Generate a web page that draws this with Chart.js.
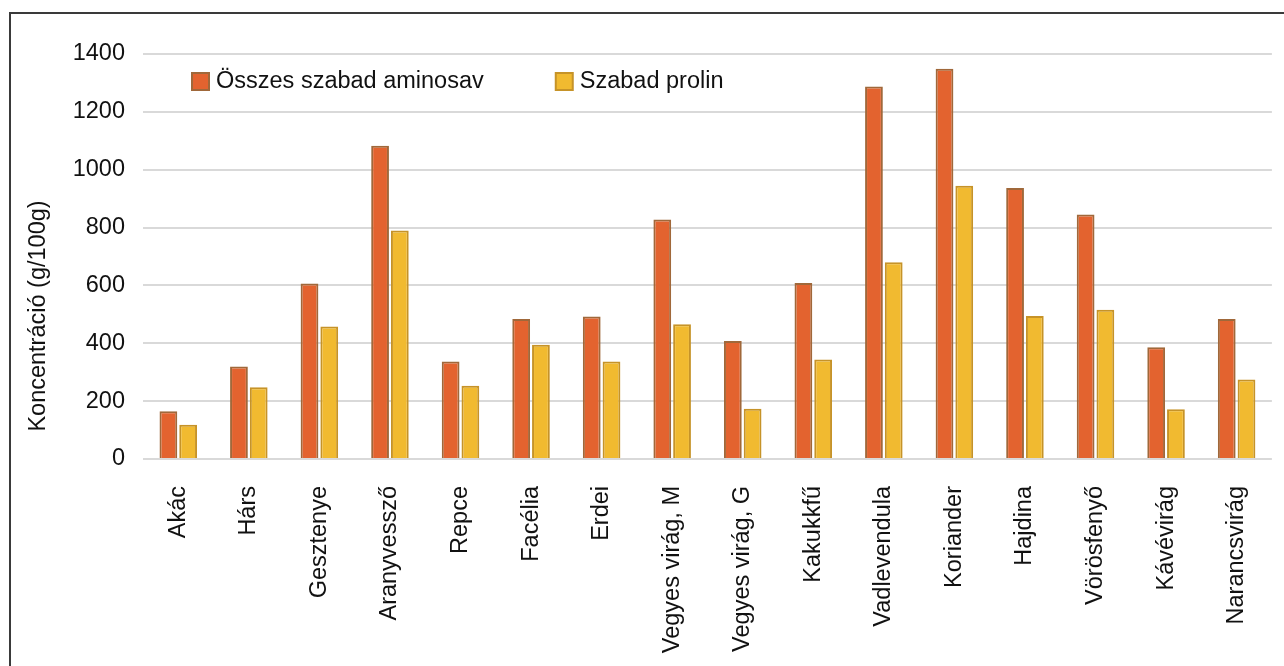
<!DOCTYPE html>
<html>
<head>
<meta charset="utf-8">
<script src="https://cdn.jsdelivr.net/npm/chart.js@4.4.1/dist/chart.umd.min.js"></script>
<style>
  html, body { margin: 0; padding: 0; background: #fff; overflow: hidden; }
  #wrap { position: relative; width: 1284px; height: 666px; overflow: hidden; }
  #frame { position: absolute; left: 9px; top: 12px; width: 1400px; height: 800px; border: 2px solid #3a3a3a; box-sizing: border-box; }
  canvas { position: absolute; left: 0; top: 0; }
</style>
</head>
<body>
<div id="wrap">
  <div id="frame"></div>
  <canvas id="aminoChart" width="1284" height="666"></canvas>
</div>
<script>
const categories = ['Akác', 'Hárs', 'Gesztenye', 'Aranyvessző', 'Repce', 'Facélia', 'Erdei',
  'Vegyes virág, M', 'Vegyes virág, G', 'Kakukkfű', 'Vadlevendula', 'Koriander',
  'Hajdina', 'Vörösfenyő', 'Kávévirág', 'Narancsvirág'];
const osszesAminosav = [165, 320, 607, 1083, 337, 484, 493, 828, 408, 608, 1288, 1349, 937, 845, 386, 484];
const szabadProlin = [118, 248, 458, 790, 253, 395, 337, 466, 174, 344, 680, 945, 494, 516, 172, 275];
const yTicks = [0, 200, 400, 600, 800, 1000, 1200, 1400];
const yTitle = 'Koncentráció (g/100g)';

const FONT = '"Liberation Sans", Arial, Helvetica, sans-serif';
const ctx = document.getElementById('aminoChart');

// legend inside the plot area + y title placed a bit lower than the axis centre, like the original
const insideLegend = {
  id: 'insideLegend',
  afterDraw(chart) {
    const c = chart.ctx;
    const area = chart.chartArea;
    let x = area.left + 49;
    const y = area.top + 27;
    c.save();
    c.font = '23.5px ' + FONT;
    c.textBaseline = 'middle';
    chart.data.datasets.forEach(ds => {
      c.fillStyle = ds.backgroundColor;
      c.strokeStyle = ds.borderColor;
      c.lineWidth = 2;
      c.fillRect(x, y - 8, 17, 17);
      c.strokeRect(x, y - 8, 17, 17);
      c.fillStyle = '#111';
      c.fillText(ds.label, x + 24, y + 1);
      x += 24 + c.measureText(ds.label).width + 72;
    });

    c.translate(39, 316);
    c.rotate(-Math.PI / 2);
    c.font = '23.5px ' + FONT;
    c.textAlign = 'center';
    c.fillStyle = '#111';
    c.fillText(yTitle, 0, 0);
    c.restore();
  }
};

new Chart(ctx, {
  type: 'bar',
  data: {
    labels: categories,
    datasets: [
      {
        label: 'Összes szabad aminosav',
        data: osszesAminosav,
        backgroundColor: '#E3632F',
        borderColor: '#A0683A',
        borderWidth: 2
      },
      {
        label: 'Szabad prolin',
        data: szabadProlin,
        backgroundColor: '#F1BA30',
        borderColor: '#C69328',
        borderWidth: 2
      }
    ]
  },
  options: {
    responsive: false,
    animation: false,
    devicePixelRatio: 1,
    categoryPercentage: 0.56,
    barPercentage: 0.9,
    layout: { padding: { left: 0, top: 54, right: 6, bottom: 0 } },
    plugins: {
      legend: { display: false },
      tooltip: { enabled: false }
    },
    scales: {
      x: {
        grid: { display: false },
        border: { display: false },
        ticks: {
          color: '#111',
          font: { family: FONT, size: 23.5 },
          maxRotation: 90,
          minRotation: 90,
          padding: 19,
          autoSkip: false
        },
        afterFit(scale) { scale.height = 207; }
      },
      y: {
        min: 0,
        max: 1400,
        afterBuildTicks(scale) { scale.ticks = yTicks.map(v => ({ value: v })); },
        grid: { color: '#D9D9D9', lineWidth: 2, drawTicks: false },
        border: { display: false },
        ticks: {
          color: '#111',
          font: { family: FONT, size: 23.5 },
          padding: 18,
          callback: v => String(v)
        },
        afterFit(scale) { scale.width = 143; }
      }
    }
  },
  plugins: [insideLegend]
});
</script>
</body>
</html>
